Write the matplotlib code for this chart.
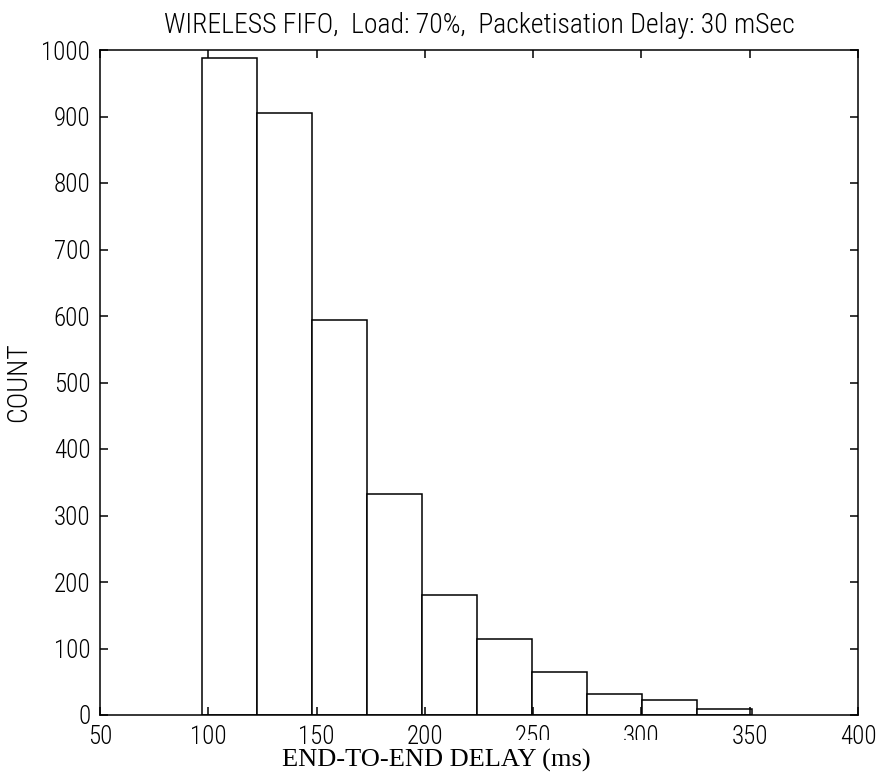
import matplotlib
matplotlib.use('Agg')
import matplotlib.pyplot as plt
from matplotlib.patches import Rectangle

plt.rcParams['font.family'] = ['Roboto Condensed', 'DejaVu Sans']
plt.rcParams['font.weight'] = 'light'
plt.rcParams['axes.titleweight'] = 'light'
plt.rcParams['axes.labelweight'] = 'light'

# histogram (MATLAB hist, 10 bins)
bin_centres = [109.8, 135.2, 160.6, 186.0, 211.4, 236.7, 262.1, 287.5, 312.9, 338.3]
bin_width = 25.4
counts = [988, 906, 594, 333, 181, 114, 64, 32, 23, 9]

x_ticks = [50, 100, 150, 200, 250, 300, 350, 400]
y_ticks = [0, 100, 200, 300, 400, 500, 600, 700, 800, 900, 1000]

titulo = 'WIRELESS FIFO,  Load: 70%,  Packetisation Delay: 30 mSec'
rotulo_x = 'END-TO-END DELAY (ms)'
rotulo_y = 'COUNT'

fig = plt.figure(figsize=(8.76, 7.74), dpi=100)
ax = fig.add_axes([100 / 876, 1 - 715 / 774, 758 / 876, 665 / 774])

ax.bar(bin_centres, counts, width=bin_width, align='center',
       facecolor='white', edgecolor='black', linewidth=1.1)

ax.set_xlim(50, 400)
ax.set_ylim(0, 1000)
ax.set_xticks(x_ticks)
ax.set_yticks(y_ticks)
ax.tick_params(direction='in', length=6, width=1.1, top=True, right=True,
               labelsize=18, colors='black')
ax.tick_params(axis='x', pad=7)
ax.tick_params(axis='y', pad=7)
for s in ax.spines.values():
    s.set_linewidth(1.1)

ax.set_title(titulo, fontsize=20, pad=12)
ax.set_ylabel(rotulo_y, fontsize=20, labelpad=7)

# white box behind the added x label, it hides the bottom of 250 and 300
fig.patches.append(Rectangle((470 / 876, 0), (700 - 470) / 876, 34 / 774,
                             transform=fig.transFigure, facecolor='white',
                             edgecolor='none', zorder=2))
fig.text(436 / 876, 1 - 767 / 774, rotulo_x, ha='center', va='baseline',
         family='Liberation Serif', fontsize=19, fontweight='normal', zorder=3)

fig.savefig('out.png', dpi=100)
